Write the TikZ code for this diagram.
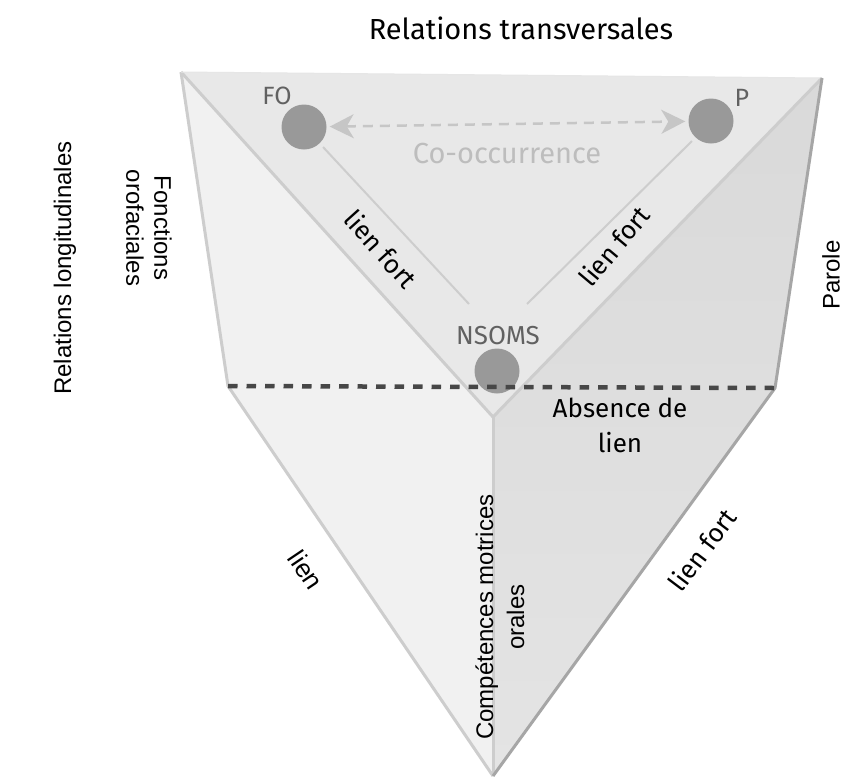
\documentclass[tikz,border=0pt]{standalone}
\usepackage{fontspec}
\setmainfont{Liberation Sans}
\newfontfamily\labelfont{Fira Sans}
\usetikzlibrary{arrows.meta}

\definecolor{facel}{HTML}{F1F1F1}
\definecolor{facet}{HTML}{E8E8E8}
\definecolor{facerhi}{HTML}{D9D9D9}
\definecolor{facerlo}{HTML}{E4E4E4}
\definecolor{edgel}{HTML}{CDCDCD}
\definecolor{edged}{HTML}{A6A6A6}
\definecolor{dotgrey}{HTML}{999999}
\definecolor{softgrey}{HTML}{C6C6C6}
\definecolor{cotext}{HTML}{BDBDBD}

\tikzset{
  dot/.style={circle, fill=dotgrey, minimum size=45pt, inner sep=0pt},
  edgeline/.style={draw=edgel, line width=3pt, line join=round},
  darkedge/.style={draw=edged, line width=3pt, line join=round},
  link/.style={draw=edgel, line width=2pt},
  dotlabel/.style={font=\labelfont\fontsize{25}{28}\selectfont, text=black!62},
  bodytext/.style={font=\labelfont\fontsize{26}{35}\selectfont, text=black, align=center},
  sidetext/.style={font=\fontsize{24}{28}\selectfont, text=black, align=center},
}

\begin{document}
\begin{tikzpicture}[x=1pt, y=-1pt]
\useasboundingbox[fill=white] (0,0) rectangle (853,782);

% corners of the solid
\coordinate (TL) at (181,72);
\coordinate (TR) at (822,78);
\coordinate (ML) at (228,386);
\coordinate (MR) at (775,388);
\coordinate (C)  at (493,417);
\coordinate (B)  at (493,776);

% faces
\fill[facel] (TL) -- (C) -- (B) -- (ML) -- cycle;
\fill[facet] (TL) -- (TR) -- (C) -- cycle;
\shade[top color=facerhi, bottom color=facerlo] (TR) -- (MR) -- (B) -- (C) -- cycle;

% edges
\draw[edgeline] (TL) -- (C) -- (TR);
\draw[edgeline] (C) -- (B);
\draw[edgeline] (TL) -- (ML) -- (B);
\draw[draw=edgel!50, line width=1pt] (TL) -- (TR);
\draw[darkedge] (TR) -- (MR) -- (B);

% nodes
\node[dot] (FO) at (304,127) {};
\node[dot] (P)  at (711,121) {};
\node[dot] (N)  at (497,371) {};
\node[dotlabel] (FOl) at (277,96) {FO};
\node[dotlabel] (Pl)  at (742,98) {P};
\node[dotlabel, font=\labelfont\fontsize{26}{28}\selectfont] (Nl) at (498,336) {NSOMS};

% links between the nodes
\coordinate (FOe) at (469,304);
\coordinate (Pe)  at (527,304);
\draw[link] (FO.-45) ++(3,4) -- (FOe);
\draw[link] (P.-135) ++(-3,4) -- (Pe);
\draw[draw=softgrey, line width=2.5pt, dash pattern=on 10pt off 7pt,
      {Stealth[length=24pt,width=24pt,inset=7pt,fill=softgrey]}-{Stealth[length=24pt,width=24pt,inset=7pt,fill=softgrey]},
      shorten <=3pt, shorten >=3pt] (FO) -- (P);
\node[font=\labelfont\fontsize{29}{30}\selectfont, text=cotext] (co) at (507,154) {Co-occurrence};

% longitudinal separation
\draw[draw=black!72, line width=4.5pt, dash pattern=on 9.5pt off 9pt] (ML) -- (MR);

% labels on the edges
\node[bodytext, rotate=-48] (lf1) at (381,249) {lien fort};
\node[bodytext, rotate=50]  (lf2) at (614,246) {lien fort};
\node[bodytext, rotate=53]  (lf3) at (702,550) {lien fort};
\node[sidetext, rotate=-56, font=\fontsize{26}{28}\selectfont] (l1) at (306,570) {lien};
\node[bodytext] (abs) at (620,425) {Absence de\\lien};
\node[sidetext, rotate=90, font=\fontsize{24}{31}\selectfont] (cmo) at (500,617) {Compétences motrices\\orales};

% titles
\node[font=\labelfont\fontsize{29}{32}\selectfont] (tt) at (521,28) {Relations transversales};
\node[sidetext, rotate=90] (tl) at (65,268) {Relations longitudinales};
\node[sidetext, rotate=-90] (fo) at (149,228) {Fonctions\\orofaciales};
\node[sidetext, rotate=90] (pa) at (831,275) {Parole};
\end{tikzpicture}
\end{document}
